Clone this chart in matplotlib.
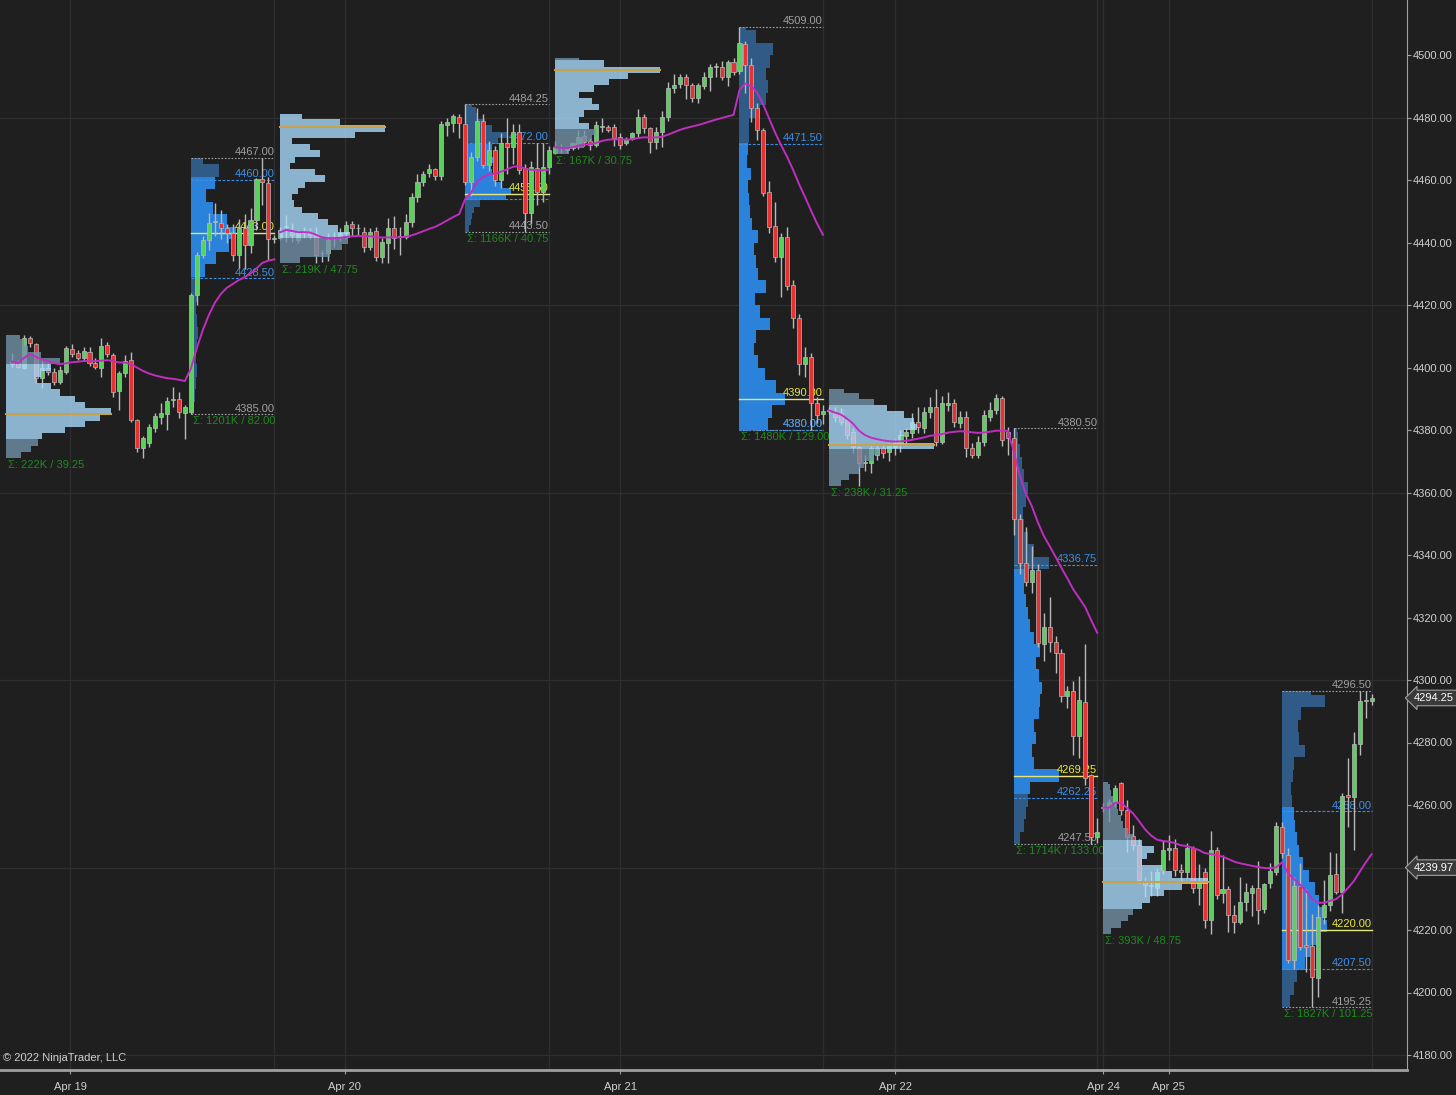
import numpy as np
import matplotlib
matplotlib.use("Agg")
import matplotlib.pyplot as plt

plt.rcParams['font.family'] = ['Liberation Sans Narrow', 'Liberation Sans', 'DejaVu Sans']

# 30 min bars, (open, high, low, close), one list per session
# overnight (ETH) and day (RTH) sessions, Apr 18 evening .. Apr 25
eth1 = [(4402.0, 4404.5, 4400.3, 4401.0), (4401.3, 4402.4, 4399.7, 4400.3), (4399.7, 4410.25, 4399.4, 4409.5),
        (4409.5, 4410.0, 4406.7, 4407.7), (4407.5, 4408.0, 4395.0, 4396.5), (4396.5, 4402.4, 4393.3, 4399.7),
        (4399.7, 4401.5, 4397.5, 4398.5), (4398.7, 4400.0, 4394.5, 4395.5), (4395.5, 4400.5, 4394.8, 4399.2),
        (4398.7, 4407.0, 4398.0, 4406.1), (4405.8, 4407.5, 4403.5, 4404.3), (4404.5, 4405.5, 4402.4, 4403.0),
        (4403.0, 4406.5, 4402.0, 4405.4), (4405.1, 4406.5, 4400.5, 4401.5), (4401.5, 4403.0, 4399.5, 4400.3),
        (4399.7, 4409.3, 4397.0, 4406.9), (4407.2, 4408.2, 4403.5, 4404.2), (4404.0, 4404.8, 4390.5, 4392.3),
        (4392.6, 4399.0, 4386.4, 4398.1), (4398.1, 4404.0, 4397.0, 4402.2), (4402.4, 4404.9, 4382.5, 4383.2),
        (4383.2, 4383.5, 4373.0, 4374.1), (4374.1, 4378.0, 4371.0, 4377.3), (4375.7, 4382.0, 4374.5, 4381.1),
        (4380.5, 4385.5, 4379.5, 4384.5), (4384.3, 4388.5, 4382.0, 4385.3), (4385.1, 4390.5, 4380.0, 4389.3),
        (4389.5, 4393.8, 4387.5, 4389.8), (4390.0, 4392.3, 4384.0, 4385.9), (4385.5, 4388.0, 4377.0, 4387.3)]
rth1 = [(4385.9, 4424.0, 4385.0, 4423.2), (4423.2, 4437.0, 4420.0, 4436.0), (4436.0, 4442.0, 4435.0, 4440.8),
        (4440.8, 4449.5, 4437.5, 4446.1), (4446.5, 4452.5, 4442.0, 4446.8), (4446.3, 4450.5, 4441.0, 4444.8),
        (4444.8, 4446.0, 4440.0, 4442.9), (4443.1, 4446.0, 4434.0, 4436.0), (4436.0, 4447.5, 4432.0, 4444.5),
        (4444.5, 4449.0, 4431.5, 4439.2), (4439.2, 4451.0, 4436.5, 4447.2), (4447.2, 4460.5, 4444.0, 4460.2),
        (4460.2, 4467.0, 4452.0, 4459.5), (4459.1, 4461.0, 4434.5, 4441.0), (4441.0, 4442.5, 4440.0, 4441.3)]
eth2 = [(4441.3, 4445.1, 4440.8, 4444.0), (4445.0, 4448.8, 4440.3, 4445.2), (4443.5, 4446.1, 4440.3, 4442.4),
        (4440.8, 4444.0, 4439.7, 4442.9), (4443.0, 4445.0, 4441.5, 4443.5), (4443.2, 4444.5, 4441.0, 4442.4),
        (4442.9, 4445.1, 4433.5, 4436.0), (4436.5, 4437.6, 4433.8, 4436.6), (4436.5, 4443.0, 4434.0, 4440.8),
        (4441.3, 4443.5, 4438.7, 4441.9), (4441.9, 4444.5, 4440.5, 4442.9), (4442.9, 4447.0, 4441.0, 4445.6),
        (4445.8, 4447.0, 4442.0, 4444.5), (4444.5, 4446.0, 4442.5, 4444.6), (4443.5, 4445.0, 4437.0, 4438.7),
        (4438.7, 4444.5, 4437.5, 4443.5), (4443.8, 4445.0, 4434.0, 4435.5), (4435.5, 4441.5, 4433.5, 4440.3),
        (4439.7, 4448.0, 4433.5, 4444.5), (4444.5, 4448.5, 4438.0, 4441.3), (4441.8, 4445.1, 4436.0, 4441.9),
        (4441.9, 4449.0, 4441.0, 4446.7), (4446.7, 4456.0, 4445.0, 4454.7), (4454.7, 4462.0, 4453.0, 4459.5),
        (4459.5, 4463.0, 4458.0, 4461.9), (4462.2, 4465.0, 4461.0, 4463.4), (4463.4, 4464.0, 4460.0, 4461.3),
        (4461.3, 4479.0, 4460.0, 4477.9), (4477.6, 4480.0, 4474.0, 4478.7), (4478.3, 4481.25, 4475.5, 4480.5),
        (4480.3, 4481.0, 4473.5, 4478.3)]
rth2 = [(4477.8, 4484.25, 4458.4, 4459.5), (4459.5, 4469.0, 4455.0, 4467.5), (4467.5, 4483.0, 4466.0, 4478.9),
        (4478.9, 4481.0, 4464.0, 4464.8), (4464.8, 4472.5, 4463.0, 4469.6), (4469.6, 4471.0, 4458.0, 4460.0),
        (4460.0, 4475.0, 4457.5, 4471.9), (4471.7, 4480.0, 4462.0, 4470.7), (4470.7, 4478.0, 4465.0, 4475.5),
        (4475.5, 4478.0, 4462.0, 4463.2), (4463.7, 4465.0, 4443.5, 4449.3), (4449.3, 4466.0, 4446.0, 4464.3),
        (4463.7, 4472.0, 4452.0, 4456.3), (4456.3, 4472.0, 4453.0, 4464.3), (4464.3, 4471.0, 4462.0, 4469.6)]
eth3 = [(4468.5, 4472.5, 4468.25, 4470.7), (4470.5, 4471.5, 4468.5, 4470.2), (4469.6, 4471.0, 4468.8, 4470.6),
        (4470.2, 4472.2, 4469.6, 4471.7), (4471.2, 4476.0, 4470.0, 4473.9), (4474.1, 4476.0, 4471.0, 4472.3),
        (4472.5, 4473.3, 4469.6, 4471.2), (4471.2, 4479.0, 4470.5, 4477.6), (4477.0, 4479.7, 4475.5, 4477.1),
        (4477.1, 4477.6, 4475.5, 4476.0), (4477.1, 4478.0, 4471.0, 4473.3), (4473.9, 4475.0, 4470.0, 4471.2),
        (4471.7, 4473.9, 4471.2, 4473.0), (4473.0, 4475.5, 4472.8, 4474.9), (4475.0, 4482.6, 4473.5, 4480.3),
        (4480.3, 4481.0, 4475.0, 4476.5), (4476.5, 4477.0, 4468.5, 4472.3), (4472.3, 4477.0, 4470.0, 4475.5),
        (4475.5, 4482.0, 4470.5, 4480.3), (4480.3, 4491.5, 4479.0, 4489.6), (4489.6, 4494.0, 4488.0, 4490.4),
        (4490.8, 4494.0, 4489.5, 4493.1), (4493.1, 4494.0, 4485.8, 4490.4), (4490.4, 4491.0, 4485.0, 4486.2),
        (4486.2, 4491.0, 4484.5, 4490.4), (4490.1, 4494.5, 4489.0, 4493.1), (4493.1, 4497.0, 4488.5, 4496.3),
        (4496.3, 4497.3, 4493.1, 4496.4), (4496.3, 4498.0, 4492.0, 4493.1), (4493.1, 4498.5, 4490.0, 4497.9),
        (4497.9, 4499.0, 4493.5, 4494.7)]
rth3 = [(4494.9, 4509.0, 4494.0, 4503.8), (4503.5, 4504.5, 4488.0, 4496.8), (4496.8, 4499.0, 4478.6, 4483.0),
        (4483.0, 4484.6, 4472.8, 4476.0), (4476.0, 4476.5, 4455.0, 4455.8), (4456.2, 4459.7, 4443.0, 4445.0),
        (4445.3, 4453.0, 4433.8, 4435.4), (4435.4, 4443.0, 4422.6, 4441.8), (4441.8, 4445.0, 4424.8, 4426.0),
        (4426.4, 4428.0, 4412.6, 4415.8), (4416.0, 4417.0, 4397.6, 4401.0), (4401.0, 4406.6, 4397.0, 4403.4),
        (4403.4, 4404.5, 4380.0, 4388.6), (4388.6, 4390.6, 4382.2, 4384.8), (4385.0, 4388.0, 4382.0, 4386.0)]
eth4 = [(4386.0, 4387.5, 4385.0, 4386.4), (4385.3, 4387.5, 4382.7, 4384.3), (4385.3, 4387.0, 4381.5, 4382.7),
        (4383.2, 4384.0, 4377.0, 4378.4), (4379.5, 4380.5, 4372.5, 4374.7), (4374.7, 4375.0, 4362.0, 4369.3),
        (4369.3, 4372.0, 4367.0, 4369.6), (4369.3, 4375.0, 4366.1, 4374.1), (4372.0, 4375.5, 4370.5, 4374.1),
        (4374.1, 4375.5, 4371.0, 4372.7), (4373.1, 4376.0, 4370.0, 4375.2), (4374.7, 4377.0, 4372.0, 4375.7),
        (4375.2, 4380.0, 4373.0, 4378.4), (4378.1, 4380.5, 4376.0, 4379.5), (4378.9, 4385.3, 4377.5, 4382.7),
        (4382.7, 4387.5, 4379.0, 4381.1), (4380.5, 4387.5, 4379.0, 4385.9), (4385.9, 4390.5, 4384.0, 4387.5),
        (4387.5, 4393.25, 4375.0, 4376.3), (4376.3, 4391.0, 4375.5, 4388.5), (4388.0, 4392.3, 4386.0, 4388.5),
        (4388.5, 4390.0, 4381.0, 4382.7), (4382.1, 4386.0, 4380.5, 4384.3), (4384.3, 4386.0, 4371.5, 4374.1),
        (4374.1, 4376.0, 4371.0, 4372.0), (4372.0, 4378.0, 4371.0, 4376.3), (4376.3, 4386.3, 4375.0, 4384.8),
        (4384.3, 4389.0, 4383.0, 4386.4), (4386.4, 4391.5, 4385.0, 4390.1), (4390.1, 4391.0, 4375.0, 4376.8),
        (4379.5, 4381.0, 4372.0, 4377.3)]
rth4 = [(4377.3, 4380.5, 4346.3, 4351.4), (4351.4, 4353.0, 4334.0, 4337.3), (4337.5, 4349.0, 4330.0, 4331.5),
        (4331.5, 4343.0, 4327.8, 4335.2), (4335.2, 4337.0, 4310.5, 4311.7), (4311.5, 4321.5, 4306.0, 4317.1),
        (4317.1, 4326.5, 4309.0, 4312.3), (4312.3, 4314.0, 4302.2, 4308.6), (4308.6, 4310.0, 4293.0, 4294.9),
        (4294.9, 4298.0, 4291.0, 4296.6), (4296.6, 4299.8, 4276.0, 4282.1), (4282.1, 4301.2, 4275.0, 4293.6),
        (4293.1, 4311.5, 4266.5, 4268.8), (4269.6, 4270.0, 4247.5, 4249.9), (4249.9, 4256.0, 4248.0, 4251.5)]
eth5 = [(4259.5, 4260.5, 4257.9, 4259.0), (4259.7, 4262.0, 4254.5, 4261.1), (4260.5, 4266.5, 4259.5, 4265.3),
        (4266.9, 4267.5, 4256.8, 4258.4), (4258.4, 4261.5, 4245.0, 4249.9), (4250.1, 4253.5, 4245.5, 4247.2),
        (4247.2, 4249.0, 4235.0, 4236.0), (4235.5, 4237.0, 4230.7, 4234.4), (4234.4, 4239.0, 4231.0, 4234.0),
        (4233.3, 4240.0, 4231.0, 4238.7), (4239.2, 4248.5, 4238.0, 4245.6), (4245.6, 4250.5, 4242.5, 4246.1),
        (4246.1, 4249.0, 4237.3, 4239.2), (4239.2, 4241.0, 4235.0, 4238.7), (4238.7, 4248.0, 4236.5, 4246.1),
        (4246.1, 4247.0, 4232.0, 4233.3), (4233.3, 4241.0, 4228.0, 4235.5), (4238.7, 4240.0, 4220.5, 4223.2),
        (4223.2, 4251.8, 4218.75, 4245.6), (4245.6, 4246.5, 4230.0, 4231.2), (4231.7, 4244.0, 4228.5, 4233.0),
        (4233.0, 4234.0, 4219.5, 4224.8), (4224.8, 4228.0, 4219.0, 4222.7), (4222.7, 4237.0, 4222.0, 4229.1),
        (4229.1, 4235.0, 4226.0, 4232.3), (4232.0, 4234.5, 4224.5, 4233.4), (4233.4, 4242.0, 4222.0, 4226.4),
        (4226.6, 4235.0, 4225.5, 4234.7), (4235.0, 4241.3, 4233.5, 4239.0), (4238.7, 4254.6, 4237.5, 4253.3)]
rth5 = [(4253.1, 4254.5, 4243.0, 4244.5), (4244.0, 4246.4, 4209.5, 4210.4), (4210.4, 4237.0, 4207.5, 4234.1),
        (4234.1, 4241.3, 4213.5, 4214.7), (4215.1, 4233.0, 4206.5, 4214.7), (4214.9, 4225.0, 4195.25, 4204.9),
        (4204.5, 4228.0, 4198.5, 4224.1), (4224.1, 4236.0, 4222.0, 4228.0), (4228.0, 4245.0, 4226.0, 4237.6),
        (4237.9, 4244.5, 4231.5, 4232.3), (4232.3, 4264.0, 4225.6, 4262.9), (4263.2, 4275.0, 4253.0, 4262.5),
        (4262.5, 4283.5, 4245.6, 4279.5), (4279.5, 4296.5, 4276.0, 4293.4), (4293.4, 4296.5, 4288.0, 4293.6),
        (4293.4, 4295.5, 4292.0, 4294.25)]

eth_bars = [eth1, eth2, eth3, eth4, eth5]
rth_bars = [rth1, rth2, rth3, rth4, rth5]

# overnight session profile stats
eth_vol_k = [222, 219, 167, 238, 393]
eth_low = [4371.00, 4433.50, 4468.25, 4362.00, 4218.75]
eth_range = [39.25, 47.75, 30.75, 31.25, 48.75]
eth_poc = [4385.25, 4477.00, 4495.25, 4375.25, 4235.25]
eth_vah = [4400.00, 4481.25, 4498.50, 4388.50, 4247.75]
eth_val = [4376.50, 4442.00, 4477.00, 4374.00, 4226.50]
eth_step = 2.0
# relative volume per price step, from low upward
eth_prof = [
    [15, 25, 32, 36, 60, 80, 95, 106, 80, 70, 55, 45, 30, 35, 45, 55, 35, 22, 18, 14],
    [20, 50, 62, 68, 70, 58, 48, 38, 22, 14, 12, 18, 25, 45, 35, 10, 15, 40, 30, 12, 75, 105, 60, 22],
    [15, 30, 38, 42, 35, 25, 30, 45, 38, 25, 40, 55, 75, 107, 50, 25],
    [12, 20, 30, 35, 45, 50, 105, 72, 75, 88, 85, 75, 58, 45, 30, 15],
    [8, 18, 25, 30, 40, 48, 62, 80, 107, 70, 60, 40, 45, 52, 40, 30, 25, 20, 18, 15, 14, 10, 8, 7, 5],
]

# day session profile stats
rth_vol_k = [1201, 1166, 1480, 1714, 1827]
rth_high = [4467.00, 4484.25, 4509.00, 4380.50, 4296.50]
rth_low = [4385.00, 4443.50, 4380.00, 4247.50, 4195.25]
rth_vah = [4460.00, 4472.00, 4471.50, 4336.75, 4258.00]
rth_poc = [4443.00, 4455.50, 4390.00, 4269.25, 4220.00]
rth_val = [4428.50, 4454.00, 4380.00, 4262.25, 4207.50]
rth_step = [4.0, 2.0, 4.0, 4.0, 4.0]
rth_prof = [
    [3, 4, 5, 6, 5, 6, 7, 6, 5, 7, 9, 14, 25, 38, 45, 36, 22, 15, 24, 28, 12],
    [4, 5, 6, 8, 14, 38, 42, 33, 28, 25, 24, 28, 22, 25, 30, 40, 25, 18, 12, 10, 6],
    [28, 32, 45, 36, 25, 18, 14, 16, 30, 20, 15, 26, 18, 16, 14, 18, 12, 10, 9, 8, 11, 7, 8, 9, 9,
     20, 26, 28, 26, 30, 33, 16, 6],
    [6, 10, 12, 14, 16, 44, 20, 18, 22, 20, 24, 25, 27, 24, 22, 25, 20, 16, 14, 12, 10, 14, 34, 20, 14,
     10, 9, 12, 14, 10, 8, 6, 4, 3],
    [8, 12, 15, 24, 30, 38, 47, 42, 38, 34, 28, 22, 18, 15, 13, 12, 10, 9, 11, 12, 24, 18, 16, 20, 44, 30],
]

date_labels = ["Apr 19", "Apr 20", "Apr 21", "Apr 22", "Apr 24", "Apr 25"]
date_pos = [9.8, 55.8, 102.0, 148.1, 183.0, 194.0]
last_price = 4294.25
last_vwap = 4239.97

# colours
bg = '#1f1f1f'
grid = '#2e2e2e'
up_c = '#5ad15a'
dn_c = '#e63232'
wick_c = '#b9b9b9'
eth_in, eth_out = '#acdeff', '#7393ab'
rth_in, rth_out = '#2a82da', '#2f5b86'
grey_t = '#a0a0a0'
blue_t = '#3d8fe6'
yel_t = '#e8e83a'
sig_t = '#1e8a1e'
vwap_c = '#c02ec0'
axis_t = '#d0d0d0'
fs = 8

fig = plt.figure(figsize=(14.56, 10.95), dpi=100, facecolor=bg)
ax = fig.add_axes([0, 25 / 1095, 1407 / 1456, 1070 / 1095], facecolor=bg)

# bar positions
o, h, l, c, x = [], [], [], [], []
eth_first, rth_first, rth_last = [], [], []
idx = 0
for k in range(5):
    eth_first.append(idx)
    for b in eth_bars[k]:
        o.append(b[0]); h.append(b[1]); l.append(b[2]); c.append(b[3]); x.append(idx)
        idx += 1
    rth_first.append(idx)
    for b in rth_bars[k]:
        o.append(b[0]); h.append(b[1]); l.append(b[2]); c.append(b[3]); x.append(idx)
        idx += 1
    rth_last.append(idx - 1)
o, h, l, c, x = map(np.array, (o, h, l, c, x))
eth_first[0] = -1  # first overnight bar is just off the left edge

# grid
for yg in np.arange(4180, 4501, 60):
    ax.axhline(yg, color=grid, lw=1, zorder=0)
for xg in date_pos + rth_last:
    ax.axvline(xg, color=grid, lw=1, zorder=0)


def profile(x0, low, high, step, vols, val, vah, maxw, cin, cout, z, alpha):
    vols = np.array(vols, float)
    w = vols / vols.max() * maxw
    bot = low + step * np.arange(len(vols))
    ht = np.minimum(step, high - bot)
    mid = bot + ht / 2
    cols = [cin if val <= m <= vah else cout for m in mid]
    ax.barh(bot, w, height=ht, left=x0, align='edge', color=cols, lw=0, zorder=z, alpha=alpha)


def tag(xp, yp, s, col, va='bottom', ha='right', dy=0.5):
    ax.annotate(s, (xp, yp), xytext=(0, dy), textcoords='offset points', ha=ha, va=va,
                color=col, fontsize=fs, zorder=2)


for k in range(5):
    # overnight profile, drawn over the candles
    hi = eth_low[k] + eth_range[k]
    profile(eth_first[k], eth_low[k], hi, eth_step, eth_prof[k], eth_val[k], eth_vah[k],
            17.6, eth_in, eth_out, 4, 0.78)
    ax.plot([eth_first[k], eth_first[k] + 17.6], [eth_poc[k]] * 2, color='#c8a24a', lw=1.5, zorder=4.5)
    tag(eth_first[k] + 0.3, eth_low[k], "Σ: %dK / %.2f" % (eth_vol_k[k], eth_range[k]), sig_t,
        va='top', ha='left', dy=-1.5)

    # day session profile and levels
    x0, x1 = rth_first[k], rth_last[k]
    profile(x0, rth_low[k], rth_high[k], rth_step[k], rth_prof[k], rth_val[k], rth_vah[k],
            7.6, rth_in, rth_out, 1, 1.0)
    ax.plot([x0, x1], [rth_high[k]] * 2, color=grey_t, lw=0.8, ls=(0, (1.5, 1.5)), zorder=1.5)
    ax.plot([x0, x1], [rth_low[k]] * 2, color=grey_t, lw=0.8, ls=(0, (1.5, 1.5)), zorder=1.5)
    ax.plot([x0, x1], [rth_vah[k]] * 2, color=blue_t, lw=0.8, ls=(0, (2.5, 1.5)), zorder=1.5)
    ax.plot([x0, x1], [rth_val[k]] * 2, color=blue_t, lw=0.8, ls=(0, (2.5, 1.5)), zorder=1.5)
    ax.plot([x0, x1], [rth_poc[k]] * 2, color='#e6e680', lw=1.0, zorder=1.6)
    tag(x1, rth_high[k], "%.2f" % rth_high[k], grey_t)
    tag(x1, rth_low[k], "%.2f" % rth_low[k], grey_t)
    tag(x1, rth_vah[k], "%.2f" % rth_vah[k], blue_t)
    if abs(rth_val[k] - rth_poc[k]) > 3:
        tag(x1, rth_val[k], "%.2f" % rth_val[k], blue_t)
    tag(x1, rth_poc[k], "%.2f" % rth_poc[k], yel_t)
    tag(x0 + 0.3, rth_low[k], "Σ: %dK / %.2f" % (rth_vol_k[k], rth_high[k] - rth_low[k]), sig_t,
        va='top', ha='left', dy=-1.5)

# candles
upm = c >= o
ax.vlines(x, l, h, color=wick_c, lw=1, zorder=2.6)
ax.bar(x, np.maximum(np.abs(c - o), 0.3), bottom=np.minimum(o, c), width=0.68,
       color=np.where(upm, up_c, dn_c), edgecolor=wick_c, linewidth=0.5, zorder=3)

# trading day vwap, volume spread evenly over each session's bars
for k in range(5):
    ne, nr = len(eth_bars[k]), len(rth_bars[k])
    i0 = eth_first[k] if k > 0 else 0
    sl = slice(i0, i0 + ne + nr)
    tp = (h[sl] + l[sl] + c[sl]) / 3
    vol = np.r_[np.full(ne, eth_vol_k[k] / ne), np.full(nr, rth_vol_k[k] / nr)]
    vw = np.cumsum(tp * vol) / np.cumsum(vol)
    ax.plot(x[sl], vw, color=vwap_c, lw=1.4, zorder=5)

# axes styling
ax.set_xlim(-2.01, 233.94)
ax.set_ylim(4175.2, 4517.6)
for s in ('top', 'left'):
    ax.spines[s].set_visible(False)
ax.spines['right'].set_color('#a0a0a0')
ax.spines['bottom'].set_color('#a0a0a0')
ax.spines['bottom'].set_linewidth(2)
ax.yaxis.tick_right()
ax.set_yticks(np.arange(4180, 4501, 20))
ax.set_yticklabels(["%.2f" % v for v in np.arange(4180, 4501, 20)])
ax.set_xticks(date_pos)
ax.set_xticklabels(date_labels)
ax.tick_params(axis='y', colors='#a0a0a0', labelcolor=axis_t, labelsize=fs, length=3, pad=1)
ax.tick_params(axis='x', colors='#a0a0a0', labelcolor=axis_t, labelsize=fs, length=3, pad=6)

for val_, txt in ((last_price, "%.2f" % last_price), (last_vwap, "%.2f" % last_vwap)):
    ax.annotate(txt, (1, val_), xycoords=('axes fraction', 'data'), xytext=(5, 0),
                textcoords='offset points', ha='left', va='center', fontsize=fs, color='white',
                bbox=dict(boxstyle='larrow,pad=0.25', fc='#3a3a3a', ec='#a0a0a0', lw=0.8),
                annotation_clip=False, zorder=10)

fig.text(0.002, 1 - 1058 / 1095, "© 2022 NinjaTrader, LLC", fontsize=fs, color=axis_t, va='center')

fig.savefig("out.png", dpi=100, facecolor=bg)
